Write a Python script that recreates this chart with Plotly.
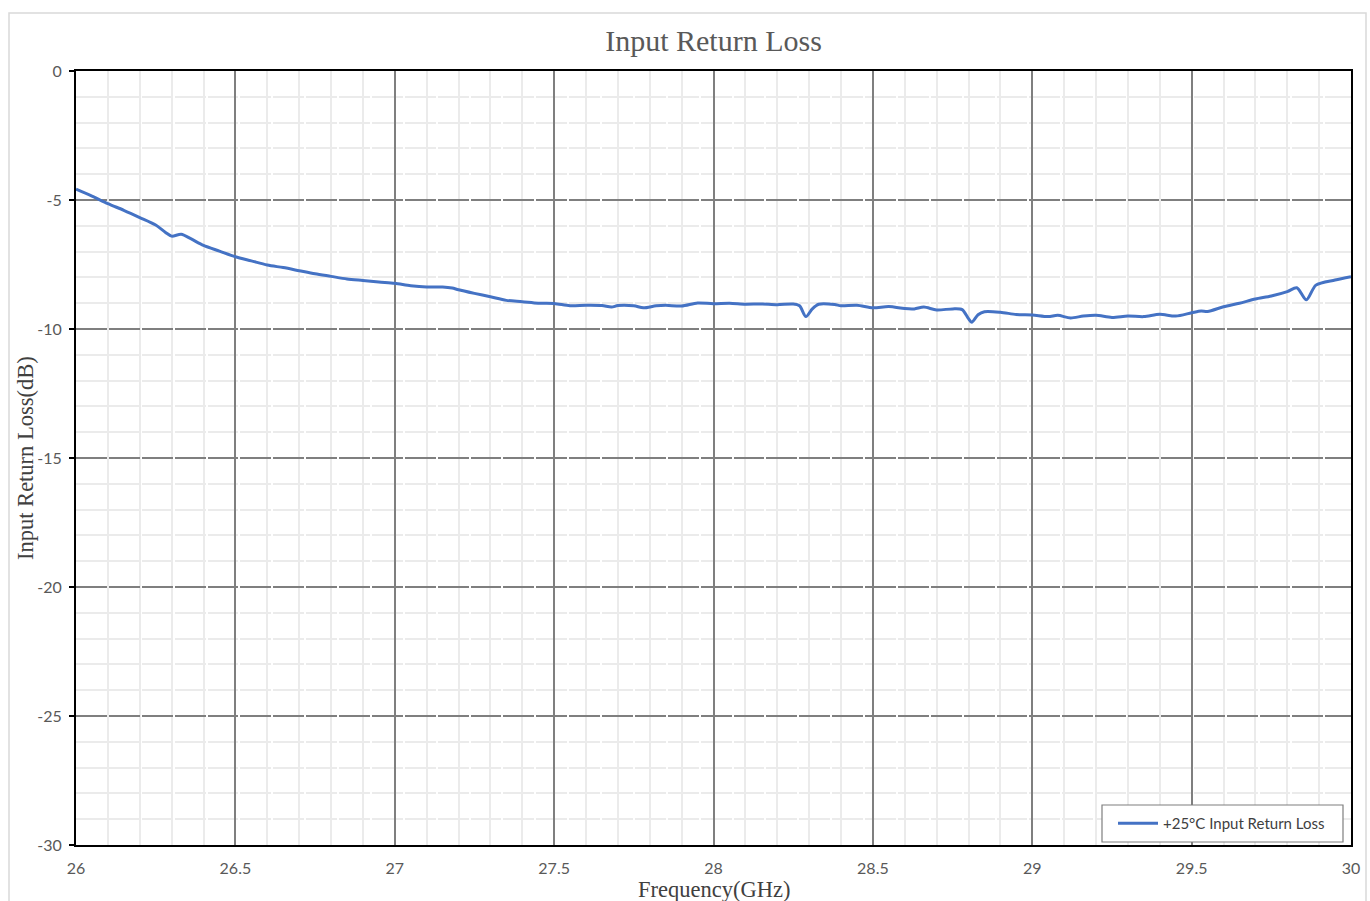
import plotly.graph_objects as go

freq_ghz = [26.00, 26.05, 26.10, 26.15, 26.20, 26.25, 26.28, 26.30, 26.33, 26.36,
            26.40, 26.45, 26.50, 26.55, 26.60, 26.65, 26.70, 26.75, 26.80, 26.85,
            26.90, 26.95, 27.00, 27.05, 27.10, 27.15, 27.18, 27.20, 27.25, 27.30,
            27.35, 27.40, 27.45, 27.50, 27.55, 27.60, 27.65, 27.68, 27.70, 27.75,
            27.78, 27.82, 27.85, 27.90, 27.95, 28.00, 28.05, 28.10, 28.15, 28.20,
            28.25, 28.27, 28.29, 28.31, 28.33, 28.38, 28.40, 28.45, 28.50, 28.55,
            28.60, 28.63, 28.66, 28.70, 28.75, 28.78, 28.80, 28.81, 28.83, 28.85,
            28.90, 28.95, 29.00, 29.05, 29.08, 29.12, 29.16, 29.20, 29.25, 29.30,
            29.35, 29.40, 29.45, 29.50, 29.53, 29.55, 29.60, 29.65, 29.70, 29.75,
            29.80, 29.83, 29.86, 29.89, 29.95, 30.00]

return_loss_db = [-4.58, -4.85, -5.14, -5.40, -5.68, -5.97, -6.25, -6.40, -6.33, -6.50,
                  -6.76, -6.98, -7.20, -7.36, -7.52, -7.62, -7.74, -7.86, -7.96, -8.06,
                  -8.12, -8.18, -8.23, -8.32, -8.37, -8.37, -8.41, -8.48, -8.62, -8.75,
                  -8.89, -8.94, -9.00, -9.01, -9.10, -9.08, -9.09, -9.15, -9.09, -9.10,
                  -9.18, -9.10, -9.08, -9.11, -8.99, -9.02, -9.00, -9.04, -9.03, -9.06,
                  -9.03, -9.10, -9.52, -9.22, -9.04, -9.05, -9.10, -9.08, -9.18, -9.13,
                  -9.21, -9.22, -9.15, -9.26, -9.22, -9.25, -9.60, -9.74, -9.45, -9.33,
                  -9.35, -9.44, -9.46, -9.52, -9.47, -9.57, -9.50, -9.47, -9.55, -9.50,
                  -9.52, -9.43, -9.50, -9.37, -9.30, -9.32, -9.14, -9.00, -8.84, -8.72,
                  -8.55, -8.40, -8.87, -8.30, -8.10, -7.97]

y_tick_values = [0, -5, -10, -15, -20, -25, -30]
y_tick_labels = ["0", "-5", "-10", "-15", "-20", "-25", "-30"]
x_tick_values = [26, 26.5, 27, 27.5, 28, 28.5, 29, 29.5, 30]
x_tick_labels = ["26", "26.5", "27", "27.5", "28", "28.5", "29", "29.5", "30"]

series_name = "+25°C Input Return Loss"
chart_title = "Input Return Loss"
x_title = "Frequency(GHz)"
y_title = "Input Return Loss(dB)"

W, H = 1370, 901
L, R, T, B = 76, 19, 71, 56
PW, PH = W - L - R, H - T - B

def px_x(p):
    return (p - L) / PW

def px_y(p):
    return (H - B - p) / PH

fig = go.Figure()
fig.add_trace(go.Scatter(
    x=freq_ghz, y=return_loss_db, mode="lines", name=series_name,
    line=dict(color="#4472C4", width=3, shape="spline", smoothing=0.8),
))

tick_font = dict(family="Lato, Open Sans, sans-serif", size=16, color="#595959")
serif = "Liberation Serif, Times New Roman, serif"

fig.update_layout(
    width=W, height=H,
    margin=dict(l=L, r=R, t=T, b=B, autoexpand=False),
    paper_bgcolor="white", plot_bgcolor="white",
    title=dict(text=chart_title, x=0.5, xref="paper", y=1 - 40 / H, yanchor="middle",
               font=dict(family=serif, size=30, color="#595959")),
    showlegend=True,
    legend=dict(x=px_x(1113), xanchor="left", y=px_y(823.5), yanchor="middle",
                bgcolor="rgba(0,0,0,0)", borderwidth=0,
                font=dict(family="Lato, Open Sans, sans-serif", size=15, color="#404040"),
                itemwidth=40),
    xaxis=dict(range=[26, 30], tickmode="array", tickvals=x_tick_values, ticktext=x_tick_labels,
               showline=True, linecolor="black",
               linewidth=2, mirror=True, showgrid=True, gridcolor="#7f7f7f", gridwidth=1.5,
               ticks="", tickfont=tick_font, ticklabelstandoff=8, zeroline=False,
               minor=dict(dtick=0.1, tick0=26, showgrid=True, gridcolor="#ebebeb", gridwidth=1.5)),
    yaxis=dict(range=[-30, 0], tickmode="array", tickvals=y_tick_values, ticktext=y_tick_labels,
               showline=True, linecolor="black",
               linewidth=2, mirror=True, showgrid=True, gridcolor="#7f7f7f", gridwidth=1.5,
               griddash="30.875px,2px",
               ticks="outside", ticklen=5, tickcolor="black", tickwidth=1.5,
               tickfont=tick_font, ticklabelstandoff=4, zeroline=False,
               minor=dict(dtick=1, tick0=0, showgrid=True, gridcolor="#ebebeb", gridwidth=1.5)),
    annotations=[
        dict(text=x_title, xref="paper", yref="paper", x=0.5, y=px_y(889),
             xanchor="center", yanchor="middle", showarrow=False,
             font=dict(family=serif, size=22.5, color="#404040")),
        dict(text=y_title, xref="paper", yref="paper", x=px_x(25), y=px_y(458),
             xanchor="center", yanchor="middle", showarrow=False, textangle=-90,
             font=dict(family=serif, size=22.5, color="#404040")),
    ],
    shapes=[
        dict(type="rect", xref="paper", yref="paper",
             x0=px_x(9), x1=px_x(1366), y0=px_y(905), y1=px_y(13),
             line=dict(color="#d9d9d9", width=1.5), fillcolor="rgba(0,0,0,0)", layer="below"),
        dict(type="rect", xref="paper", yref="paper",
             x0=px_x(1102), x1=px_x(1343), y0=px_y(842), y1=px_y(805),
             line=dict(color="#7f7f7f", width=1.2), fillcolor="white", layer="above"),
    ],
)

fig.write_html("out.html", config={"displayModeBar": False},
               post_script="document.body.style.margin='0';")
